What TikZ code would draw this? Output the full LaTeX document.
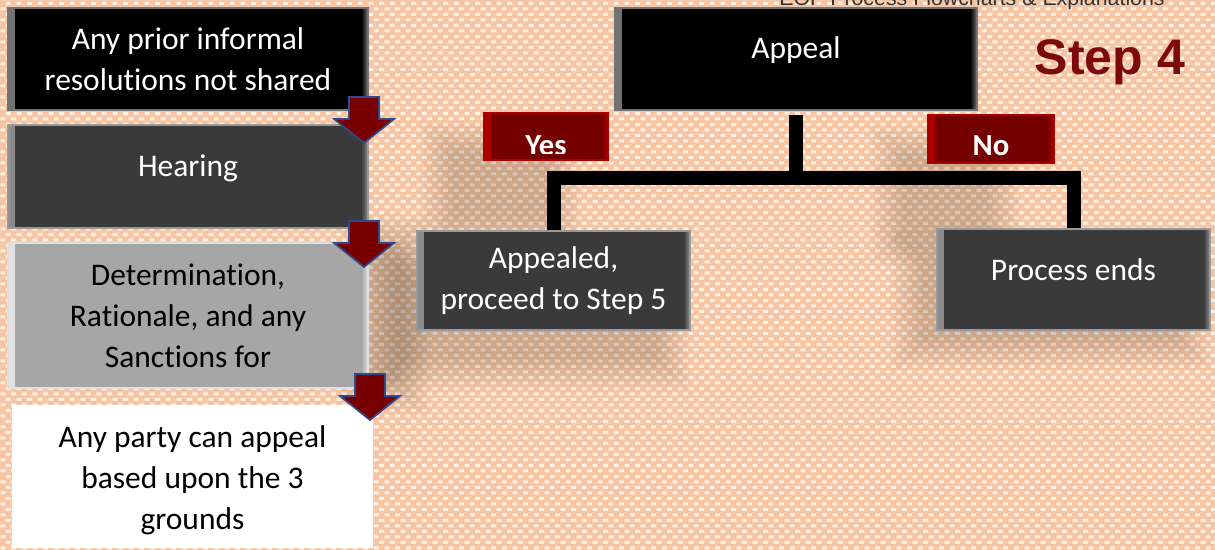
\documentclass[tikz,border=0pt]{standalone}
\usepackage{fontspec}
\setmainfont{Carlito}[Ligatures=NoCommon]
\newfontfamily\arialfont{Liberation Sans}
\usetikzlibrary{patterns}

\definecolor{peach}{HTML}{F6C6A4}
\definecolor{dotwhite}{HTML}{FFF1E6}
\definecolor{darkbox}{HTML}{3A3A3A}
\definecolor{lightbox}{HTML}{A6A6A6}
\definecolor{maroonbox}{HTML}{740000}
\definecolor{arrowred}{HTML}{780000}
\definecolor{arrowblue}{HTML}{2F4B8C}
\definecolor{steptext}{HTML}{7C0A0A}
\definecolor{headertext}{HTML}{333333}

% staggered rows of small light dots for the page background
\pgfdeclarepatternformonly{peachdots}{\pgfqpoint{-1pt}{-1pt}}{\pgfqpoint{9pt}{9pt}}{\pgfqpoint{8pt}{8.25pt}}{%
  \pgfpathrectangle{\pgfqpoint{0.4pt}{0.5pt}}{\pgfqpoint{3.6pt}{2.2pt}}%
  \pgfpathrectangle{\pgfqpoint{4.4pt}{4.6pt}}{\pgfqpoint{3.6pt}{2.2pt}}%
  \pgfusepath{fill}}

% soft shadow: stacked translucent rectangles around centre (#1,#2), size #3 x #4
\newcommand\softshade[4]{%
  \foreach \k in {1,...,10}{%
    \fill[black, opacity=0.014]
      ({#1-#3/2-\k*3.5},{#2-#4/2-\k*3.5}) rectangle ({#1+#3/2+\k*3.5},{#2+#4/2+\k*3.5});
  }}

\begin{document}
\begin{tikzpicture}[x=0.75pt,y=-0.75pt,
  boxsize/.style 2 args={minimum width=#1*0.75pt, minimum height=#2*0.75pt},
  bevel/.style 2 args={path picture={
    \fill[left color=#1, right color=#2]
      (path picture bounding box.south west) rectangle ([xshift=5pt]path picture bounding box.north west);
    \fill[left color=#2, right color=#1]
      ([xshift=-5pt]path picture bounding box.south east) rectangle (path picture bounding box.north east);
  }},
  box/.style={rectangle, inner sep=0pt, align=center,
    font=\fontsize{23.6}{30.75}\selectfont},
  blackbox/.style={box, fill=black, draw=black!55, line width=1.2pt, text=white,
    bevel={black!55}{black}},
  darkbox/.style={box, fill=darkbox, draw=black!40, line width=1.2pt, text=white,
    bevel={black!45}{darkbox}},
  lightbox/.style={box, fill=lightbox, draw=black!12, line width=1.2pt, text=black,
    bevel={black!12}{lightbox}},
  whitebox/.style={box, fill=white, text=black},
  answerbox/.style={box, fill=maroonbox, draw=red!40!maroonbox, line width=1pt,
    bevel={red!40!maroonbox}{maroonbox}},
  answertext/.style={inner sep=0pt, text=white, font=\bfseries\fontsize{23}{26}\selectfont},
  label/.style={inner sep=0pt, align=center, font=\fontsize{23.6}{30.75}\selectfont},
  conn/.style={line width=10.5pt, line join=miter, black},
  dnarrow/.pic={
    \path[fill=arrowred, draw=arrowblue, line width=1.3pt, line join=miter]
      (-15,0) -- (15,0) -- (15,22) -- (30,22) -- (0,46) -- (-30,22) -- (-15,22) -- cycle;
  }
]
\useasboundingbox (0,0) rectangle (1215,550);
\clip (0,0) rectangle (1215,550);

% background
\fill[peach] (0,0) rectangle (1215,550);
\fill[pattern=peachdots, pattern color=dotwhite] (0,0) rectangle (1215,550);

% soft shadows cast by the decision boxes
\softshade{500}{185}{90}{60}
\softshade{945}{195}{80}{70}
\softshade{530}{315}{250}{80}
\softshade{1050}{300}{250}{70}
\softshade{385}{315}{20}{130}

% running header, partly cut off at the top edge
\node[anchor=base, inner sep=0pt, text=headertext,
  font=\arialfont\fontsize{16}{16}\selectfont] (header) at (972,5)
  {EOP Process Flowcharts \& Explanations};

% step title
\node[anchor=base, inner sep=0pt, text=steptext,
  font=\arialfont\bfseries\fontsize{37.5}{40}\selectfont] (steptitle) at (1110,74)
  {Step 4};

% left column: preceding steps
\node[blackbox, boxsize={360}{102}] (prior) at (188,59)
  {Any prior informal\\resolutions not shared};
\node[darkbox, boxsize={360}{103}] (hearing) at (188,176.5) {};
\node[label, text=white] (hearingtext) at (188,168) {Hearing};
\node[lightbox, boxsize={360}{145}] (determination) at (188,315.5)
  {Determination,\\Rationale, and any\\Sanctions for};
\node[whitebox, boxsize={361}{143}] (anyparty) at (192.5,476.5) {};
\node[label, text=black] (anypartytext) at (192.5,480)
  {Any party can appeal\\based upon the 3\\grounds};

\pic at (364,97) {dnarrow};
\pic at (364,221) {dnarrow};
\pic at (370,374) {dnarrow};

% right side: appeal decision
\node[blackbox, boxsize={362}{102}] (appeal) at (796,59) {};
\node[label, text=white] (appealtext) at (796,50) {Appeal};

\node[darkbox, boxsize={273}{99}] (appealed) at (553.5,280.5)
  {Appealed,\\proceed to Step 5};
\node[darkbox, boxsize={273}{101}] (process) at (1073.5,279.5) {};
\node[label, text=white] (processtext) at (1073.5,270) {Process ends};

% branches
\coordinate (split) at (796,178);
\draw[conn] ([yshift=-3.5pt]appeal.south) -- (split);
\draw[conn] (appealed.north) |- (split) -| (process.north);

% answer tags
\node[answerbox, boxsize={124}{47}] (yes) at (546,136.5) {};
\begin{scope}
  \clip (484,113) rectangle (608,153);
  \node[answertext] (yestext) at (546,146) {Yes};
\end{scope}
\node[answerbox, boxsize={126}{48}] (no) at (991,139) {};
\node[answertext] (notext) at (991,146) {No};
\end{tikzpicture}
\end{document}
